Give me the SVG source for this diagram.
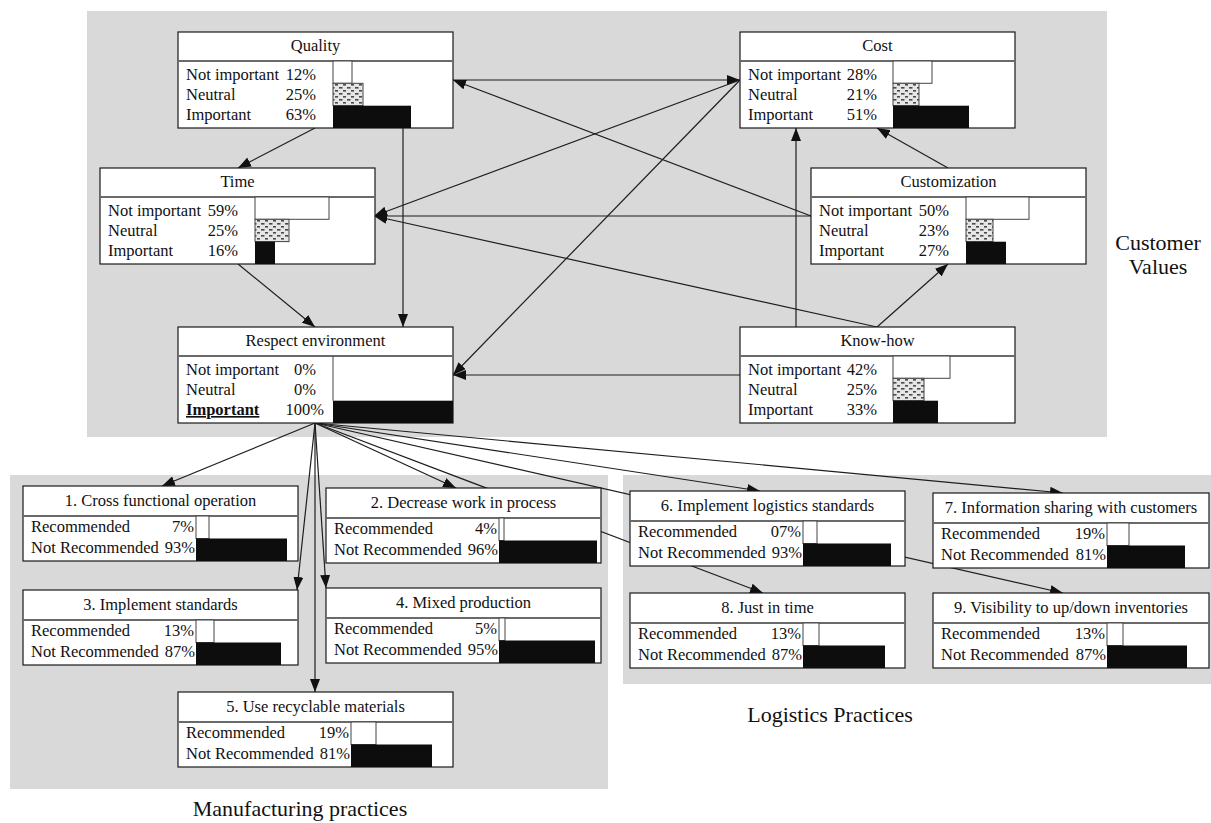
<svg xmlns="http://www.w3.org/2000/svg" width="1211" height="823" viewBox="0 0 1211 823">
  <defs>
    <style>
      .panel { fill: #d9d9d9; }
      .box { fill: #ffffff; stroke: #1a1a1a; stroke-width: 1.2; }
      .sep { stroke: #6a6a6a; stroke-width: 2; }
      .t { font-family: "Liberation Serif", "Times New Roman", "DejaVu Serif", serif; font-size: 16.5px; fill: #111; }
      .title { text-anchor: middle; }
      .pct { text-anchor: end; }
      .sec { font-family: "Liberation Serif", "Times New Roman", "DejaVu Serif", serif; font-size: 22px; fill: #111; text-anchor: middle; }
      .hi { fill: #ffffff; stroke: #444; stroke-width: 1; }
      .mid { fill: url(#dots); stroke: #444; stroke-width: 1; }
      .lo { fill: #0d0d0d; }
      .zero { stroke: #444; stroke-width: 1; }
      .edge { fill: none; stroke: #1e1e1e; stroke-width: 1.2; marker-end: url(#arrow); }
    </style>
    <pattern id="dots" width="8" height="6" patternUnits="userSpaceOnUse">
      <rect width="8" height="6" fill="#e6e6e6"/>
      <rect x="1" y="1" width="3.5" height="1.6" fill="#4a4a4a"/>
      <rect x="5" y="4" width="3.5" height="1.6" fill="#4a4a4a"/>
    </pattern>
    <marker id="arrow" markerUnits="userSpaceOnUse" markerWidth="14" markerHeight="10" refX="13" refY="5" orient="auto">
      <path d="M0,0 L13,5 L0,10 z" fill="#111"/>
    </marker>
  </defs>

  <rect width="1211" height="823" fill="#ffffff"/>

  <!-- background panels -->
  <rect class="panel" x="87" y="11" width="1020" height="426"/>
  <rect class="panel" x="10" y="475" width="598" height="314"/>
  <rect class="panel" x="623" y="475" width="588" height="209"/>

  <!-- section labels -->
  <text class="sec" x="1158" y="250">Customer</text>
  <text class="sec" x="1158" y="274">Values</text>
  <text class="sec" x="830" y="722">Logistics Practices</text>
  <text class="sec" x="300" y="816">Manufacturing practices</text>

  <!-- connectors -->
  <g id="connectors">
    <line class="edge" x1="315" y1="128" x2="238" y2="168"/>
    <line class="edge" x1="403" y1="128" x2="403" y2="327"/>
    <line class="edge" x1="238" y1="264" x2="315" y2="327"/>
    <line class="edge" x1="453" y1="80" x2="740" y2="80"/>
    <line class="edge" x1="811" y1="216" x2="453" y2="80"/>
    <line class="edge" x1="740" y1="80" x2="374" y2="216"/>
    <line class="edge" x1="811" y1="216" x2="374" y2="216"/>
    <line class="edge" x1="877" y1="327" x2="374" y2="216"/>
    <line class="edge" x1="740" y1="80" x2="453" y2="375"/>
    <line class="edge" x1="740" y1="375" x2="453" y2="375"/>
    <line class="edge" x1="796" y1="327" x2="796" y2="128"/>
    <line class="edge" x1="948" y1="168" x2="877" y2="128"/>
    <line class="edge" x1="877" y1="327" x2="948" y2="264"/>

    <line class="edge" x1="315" y1="423" x2="162" y2="486"/>
    <line class="edge" x1="315" y1="423" x2="456" y2="488"/>
    <line class="edge" x1="315" y1="423" x2="297" y2="590"/>
    <line class="edge" x1="315" y1="423" x2="326" y2="588"/>
    <line class="edge" x1="315" y1="423" x2="315" y2="692"/>
    <line class="edge" x1="315" y1="423" x2="760" y2="491"/>
    <line class="edge" x1="315" y1="423" x2="1063" y2="493"/>
    <line class="edge" x1="315" y1="423" x2="763" y2="593"/>
    <line class="edge" x1="315" y1="423" x2="1063" y2="593"/>
  </g>

  <!-- customer value nodes -->
  <g id="quality" transform="translate(178,32)">
    <rect class="box" width="275" height="96"/>
    <line class="sep" x1="0" y1="29" x2="275" y2="29"/>
    <rect class="hi" x="155" y="29" width="19" height="22.3"/>
    <rect class="mid" x="155" y="51.3" width="30" height="22.3"/>
    <rect class="lo" x="155" y="73.7" width="78" height="22.3"/>
    <text class="t title" x="137.5" y="19">Quality</text>
    <text class="t" x="8" y="47.5">Not important</text><text class="t pct" x="138" y="47.5">12%</text>
    <text class="t" x="8" y="68">Neutral</text><text class="t pct" x="138" y="68">25%</text>
    <text class="t" x="8" y="88">Important</text><text class="t pct" x="138" y="88">63%</text>
  </g>

  <g id="cost" transform="translate(740,32)">
    <rect class="box" width="275" height="96"/>
    <line class="sep" x1="0" y1="29" x2="275" y2="29"/>
    <rect class="hi" x="153" y="29" width="39" height="22.3"/>
    <rect class="mid" x="153" y="51.3" width="26" height="22.3"/>
    <rect class="lo" x="153" y="73.7" width="76" height="22.3"/>
    <text class="t title" x="137.5" y="19">Cost</text>
    <text class="t" x="8" y="47.5">Not important</text><text class="t pct" x="137" y="47.5">28%</text>
    <text class="t" x="8" y="68">Neutral</text><text class="t pct" x="137" y="68">21%</text>
    <text class="t" x="8" y="88">Important</text><text class="t pct" x="137" y="88">51%</text>
  </g>

  <g id="time" transform="translate(100,168)">
    <rect class="box" width="275" height="96"/>
    <line class="sep" x1="0" y1="29" x2="275" y2="29"/>
    <rect class="hi" x="155" y="29" width="74" height="22.3"/>
    <rect class="mid" x="155" y="51.3" width="34" height="22.3"/>
    <rect class="lo" x="155" y="73.7" width="20" height="22.3"/>
    <text class="t title" x="137.5" y="19">Time</text>
    <text class="t" x="8" y="47.5">Not important</text><text class="t pct" x="138" y="47.5">59%</text>
    <text class="t" x="8" y="68">Neutral</text><text class="t pct" x="138" y="68">25%</text>
    <text class="t" x="8" y="88">Important</text><text class="t pct" x="138" y="88">16%</text>
  </g>

  <g id="customization" transform="translate(811,168)">
    <rect class="box" width="275" height="96"/>
    <line class="sep" x1="0" y1="29" x2="275" y2="29"/>
    <rect class="hi" x="155" y="29" width="63" height="22.3"/>
    <rect class="mid" x="155" y="51.3" width="27" height="22.3"/>
    <rect class="lo" x="155" y="73.7" width="40" height="22.3"/>
    <text class="t title" x="137.5" y="19">Customization</text>
    <text class="t" x="8" y="47.5">Not important</text><text class="t pct" x="138" y="47.5">50%</text>
    <text class="t" x="8" y="68">Neutral</text><text class="t pct" x="138" y="68">23%</text>
    <text class="t" x="8" y="88">Important</text><text class="t pct" x="138" y="88">27%</text>
  </g>

  <g id="respect-environment" transform="translate(178,327)">
    <rect class="box" width="275" height="96"/>
    <line class="sep" x1="0" y1="29" x2="275" y2="29"/>
    <line class="zero" x1="155" y1="29" x2="155" y2="73.7"/>
    <rect class="lo" x="155" y="73.7" width="120" height="22.3"/>
    <text class="t title" x="137.5" y="19">Respect environment</text>
    <text class="t" x="8" y="47.5">Not important</text><text class="t pct" x="138" y="47.5">0%</text>
    <text class="t" x="8" y="68">Neutral</text><text class="t pct" x="138" y="68">0%</text>
    <text class="t" x="8" y="88" font-weight="bold" text-decoration="underline">Important</text><text class="t pct" x="146" y="88">100%</text>
  </g>

  <g id="know-how" transform="translate(740,327)">
    <rect class="box" width="275" height="96"/>
    <line class="sep" x1="0" y1="29" x2="275" y2="29"/>
    <rect class="hi" x="153" y="29" width="57" height="22.3"/>
    <rect class="mid" x="153" y="51.3" width="31" height="22.3"/>
    <rect class="lo" x="153" y="73.7" width="45" height="22.3"/>
    <text class="t title" x="137.5" y="19">Know-how</text>
    <text class="t" x="8" y="47.5">Not important</text><text class="t pct" x="137" y="47.5">42%</text>
    <text class="t" x="8" y="68">Neutral</text><text class="t pct" x="137" y="68">25%</text>
    <text class="t" x="8" y="88">Important</text><text class="t pct" x="137" y="88">33%</text>
  </g>

  <!-- practice nodes -->
  <g id="p1" transform="translate(23,486)">
    <rect class="box" width="275" height="75"/>
    <line class="sep" x1="0" y1="30" x2="275" y2="30"/>
    <rect class="hi" x="173" y="30" width="13" height="22.5"/>
    <rect class="lo" x="173" y="52.5" width="91" height="22.5"/>
    <text class="t title" x="137.5" y="20">1. Cross functional operation</text>
    <text class="t" x="8" y="46">Recommended</text><text class="t pct" x="171" y="46">7%</text>
    <text class="t" x="8" y="67">Not Recommended</text><text class="t pct" x="172" y="67">93%</text>
  </g>

  <g id="p2" transform="translate(326,488)">
    <rect class="box" width="275" height="75"/>
    <line class="sep" x1="0" y1="30" x2="275" y2="30"/>
    <rect class="hi" x="173" y="30" width="5" height="22.5"/>
    <rect class="lo" x="173" y="52.5" width="98" height="22.5"/>
    <text class="t title" x="137.5" y="20">2. Decrease work in process</text>
    <text class="t" x="8" y="46">Recommended</text><text class="t pct" x="171" y="46">4%</text>
    <text class="t" x="8" y="67">Not Recommended</text><text class="t pct" x="172" y="67">96%</text>
  </g>

  <g id="p3" transform="translate(23,590)">
    <rect class="box" width="275" height="75"/>
    <line class="sep" x1="0" y1="30" x2="275" y2="30"/>
    <rect class="hi" x="173" y="30" width="18" height="22.5"/>
    <rect class="lo" x="173" y="52.5" width="85" height="22.5"/>
    <text class="t title" x="137.5" y="20">3. Implement standards</text>
    <text class="t" x="8" y="46">Recommended</text><text class="t pct" x="171" y="46">13%</text>
    <text class="t" x="8" y="67">Not Recommended</text><text class="t pct" x="172" y="67">87%</text>
  </g>

  <g id="p4" transform="translate(326,588)">
    <rect class="box" width="275" height="75"/>
    <line class="sep" x1="0" y1="30" x2="275" y2="30"/>
    <rect class="hi" x="173" y="30" width="6" height="22.5"/>
    <rect class="lo" x="173" y="52.5" width="96" height="22.5"/>
    <text class="t title" x="137.5" y="20">4. Mixed production</text>
    <text class="t" x="8" y="46">Recommended</text><text class="t pct" x="171" y="46">5%</text>
    <text class="t" x="8" y="67">Not Recommended</text><text class="t pct" x="172" y="67">95%</text>
  </g>

  <g id="p5" transform="translate(178,692)">
    <rect class="box" width="275" height="75"/>
    <line class="sep" x1="0" y1="30" x2="275" y2="30"/>
    <rect class="hi" x="173" y="30" width="25" height="22.5"/>
    <rect class="lo" x="173" y="52.5" width="81" height="22.5"/>
    <text class="t title" x="137.5" y="20">5. Use recyclable materials</text>
    <text class="t" x="8" y="46">Recommended</text><text class="t pct" x="171" y="46">19%</text>
    <text class="t" x="8" y="67">Not Recommended</text><text class="t pct" x="172" y="67">81%</text>
  </g>

  <g id="p6" transform="translate(630,491)">
    <rect class="box" width="275" height="75"/>
    <line class="sep" x1="0" y1="30" x2="275" y2="30"/>
    <rect class="hi" x="173" y="30" width="14" height="22.5"/>
    <rect class="lo" x="173" y="52.5" width="88" height="22.5"/>
    <text class="t title" x="137.5" y="20">6. Implement logistics standards</text>
    <text class="t" x="8" y="46">Recommended</text><text class="t pct" x="171" y="46">07%</text>
    <text class="t" x="8" y="67">Not Recommended</text><text class="t pct" x="172" y="67">93%</text>
  </g>

  <g id="p7" transform="translate(933,493)">
    <rect class="box" width="276" height="75"/>
    <line class="sep" x1="0" y1="30" x2="276" y2="30"/>
    <rect class="hi" x="174" y="30" width="22" height="22.5"/>
    <rect class="lo" x="174" y="52.5" width="78" height="22.5"/>
    <text class="t title" x="138" y="20">7. Information sharing with customers</text>
    <text class="t" x="8" y="46">Recommended</text><text class="t pct" x="172" y="46">19%</text>
    <text class="t" x="8" y="67">Not Recommended</text><text class="t pct" x="173" y="67">81%</text>
  </g>

  <g id="p8" transform="translate(630,593)">
    <rect class="box" width="275" height="75"/>
    <line class="sep" x1="0" y1="30" x2="275" y2="30"/>
    <rect class="hi" x="173" y="30" width="16" height="22.5"/>
    <rect class="lo" x="173" y="52.5" width="82" height="22.5"/>
    <text class="t title" x="137.5" y="20">8. Just in time</text>
    <text class="t" x="8" y="46">Recommended</text><text class="t pct" x="171" y="46">13%</text>
    <text class="t" x="8" y="67">Not Recommended</text><text class="t pct" x="172" y="67">87%</text>
  </g>

  <g id="p9" transform="translate(933,593)">
    <rect class="box" width="276" height="75"/>
    <line class="sep" x1="0" y1="30" x2="276" y2="30"/>
    <rect class="hi" x="174" y="30" width="16" height="22.5"/>
    <rect class="lo" x="174" y="52.5" width="80" height="22.5"/>
    <text class="t title" x="138" y="20">9. Visibility to up/down inventories</text>
    <text class="t" x="8" y="46">Recommended</text><text class="t pct" x="172" y="46">13%</text>
    <text class="t" x="8" y="67">Not Recommended</text><text class="t pct" x="173" y="67">87%</text>
  </g>
</svg>
